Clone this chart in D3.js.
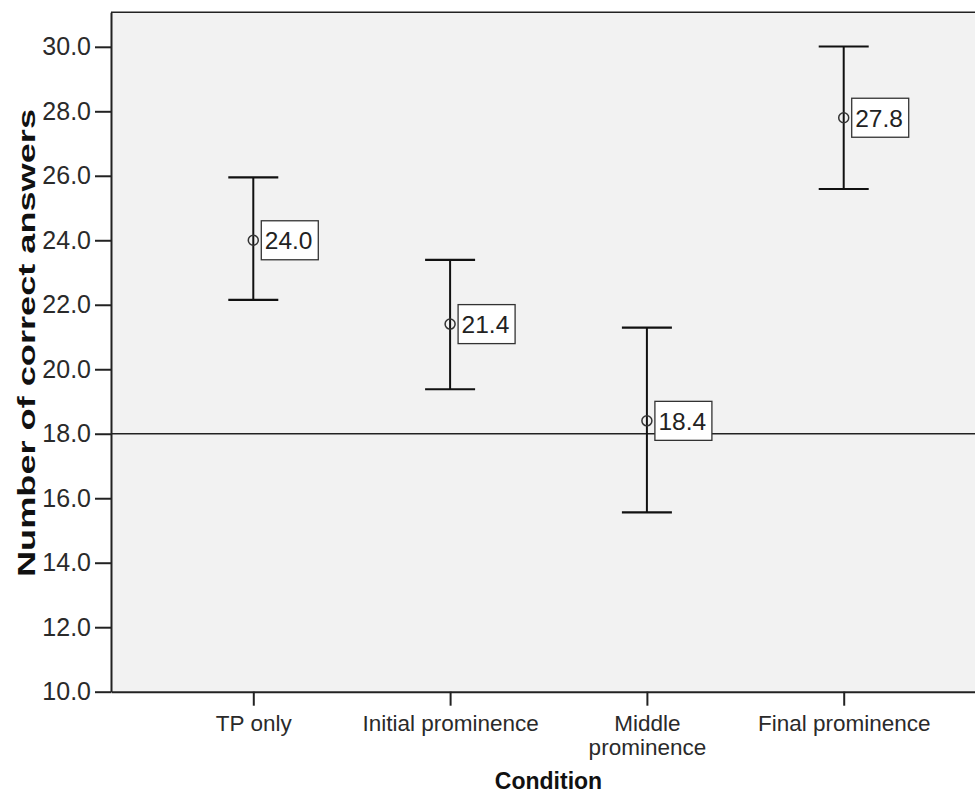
<!DOCTYPE html>
<html><head><meta charset="utf-8">
<script src="https://cdn.jsdelivr.net/npm/d3@7"></script>
<style>body{margin:0;background:#fff}svg{display:block}</style>
</head><body>
<svg id="c" width="975" height="794"></svg>
<script>
const categories = ["TP only", "Initial prominence", "Middle\nprominence", "Final prominence"];
const means = [24.0, 21.4, 18.4, 27.8];
const lower = [22.15, 19.38, 15.56, 25.59];
const upper = [25.95, 23.39, 21.29, 30.01];
const meanLabels = ["24.0", "21.4", "18.4", "27.8"];
const yTicks = [10, 12, 14, 16, 18, 20, 22, 24, 26, 28, 30];
const refValue = 18.0;
const yTitle = "Number of correct answers";
const xTitle = "Condition";

const svg = d3.select("#c");
const font = "'Liberation Sans', Arial, sans-serif";
const L = 111, R = 986, T = 12.3, B = 691.7;

const y = d3.scaleLinear().domain([10, 31.07]).range([B, T]);
const x = d3.scalePoint().domain(categories).range([L, R]).padding(0.723);

// plot background
svg.append("rect").attr("x", L).attr("y", T).attr("width", R - L).attr("height", B - T)
  .attr("fill", "#f2f2f2");
// top border
svg.append("line").attr("x1", L).attr("x2", R).attr("y1", T).attr("y2", T)
  .attr("stroke", "#222").attr("stroke-width", 1.5);

// reference line
svg.append("line").attr("x1", L).attr("x2", R).attr("y1", y(refValue)).attr("y2", y(refValue))
  .attr("stroke", "#222").attr("stroke-width", 1.5);

// y axis
const ya = svg.append("g").attr("transform", `translate(${L},0)`)
  .call(d3.axisLeft(y).tickValues(yTicks).tickFormat(d3.format(".1f"))
    .tickSize(16).tickSizeOuter(0).tickPadding(4));
ya.select(".domain").attr("stroke", "#222").attr("stroke-width", 2);
ya.selectAll(".tick line").attr("stroke", "#222").attr("stroke-width", 2);
ya.selectAll(".tick text").attr("font-family", font).attr("font-size", 25).attr("fill", "#2a2a2a");

// x axis
const xa = svg.append("g").attr("transform", `translate(0,${B})`)
  .call(d3.axisBottom(x).tickSize(14).tickSizeOuter(0).tickFormat(""));
xa.select(".domain").attr("stroke", "#222").attr("stroke-width", 2);
xa.selectAll(".tick line").attr("stroke", "#222").attr("stroke-width", 2);
xa.selectAll(".tick").each(function(d) {
  const t = d3.select(this).append("text").attr("text-anchor", "middle")
    .attr("font-family", font).attr("font-size", 22.5).attr("fill", "#2a2a2a");
  d.split("\n").forEach((line, i) => {
    t.append("tspan").attr("x", 0).attr("y", 39 + i * 24).text(line);
  });
});

// error bars
const g = svg.append("g");
categories.forEach((c, i) => {
  const cx = x(c);
  g.append("line").attr("x1", cx).attr("x2", cx).attr("y1", y(lower[i])).attr("y2", y(upper[i]))
    .attr("stroke", "#111").attr("stroke-width", 2);
  [lower[i], upper[i]].forEach(v => {
    g.append("line").attr("x1", cx - 25).attr("x2", cx + 25).attr("y1", y(v)).attr("y2", y(v))
      .attr("stroke", "#111").attr("stroke-width", 2.2);
  });
  const cy = y(means[i]);
  g.append("circle").attr("cx", cx).attr("cy", cy).attr("r", 5)
    .attr("fill", "none").attr("stroke", "#333").attr("stroke-width", 1.5);
  g.append("rect").attr("x", cx + 8).attr("y", cy - 19.5).attr("width", 57).attr("height", 39)
    .attr("fill", "#fff").attr("stroke", "#333").attr("stroke-width", 1.3);
  g.append("text").attr("x", cx + 11.5).attr("y", cy + 9)
    .attr("font-family", font).attr("font-size", 24.5).attr("fill", "#222").text(meanLabels[i]);
});

// axis titles
svg.append("text").attr("transform", `translate(35,${(108 + 578) / 2}) rotate(-90)`)
  .attr("text-anchor", "middle").attr("font-family", font).attr("font-weight", "bold")
  .attr("font-size", 24).attr("fill", "#111")
  .attr("textLength", 468).attr("lengthAdjust", "spacingAndGlyphs")
  .text(yTitle);
svg.append("text").attr("x", (L + R) / 2).attr("y", 789).attr("text-anchor", "middle")
  .attr("font-family", font).attr("font-weight", "bold").attr("font-size", 23).attr("fill", "#111")
  .text(xTitle);
</script>
</body></html>
